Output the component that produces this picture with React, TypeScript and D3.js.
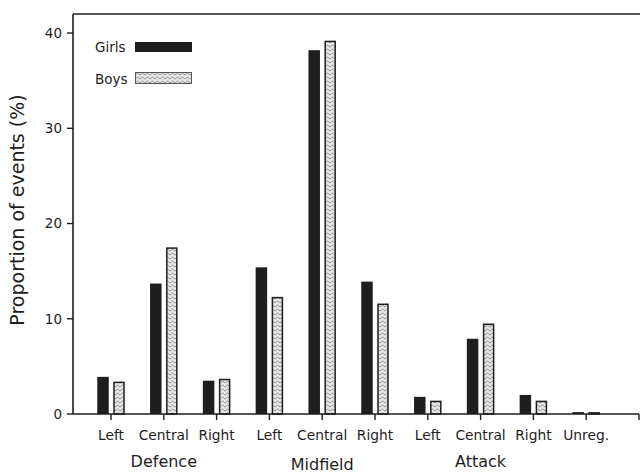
import React from 'react';
import * as d3 from 'd3';

const positions = ['Left', 'Central', 'Right', 'Left', 'Central', 'Right', 'Left', 'Central', 'Right', 'Unreg.'];
const girls = [3.9, 13.7, 3.5, 15.4, 38.2, 13.9, 1.8, 7.9, 2.0, 0.2];
const boys = [3.4, 17.5, 3.7, 12.3, 39.2, 11.6, 1.4, 9.5, 1.4, 0.2];
const zones = [
  { label: 'Defence', at: 1, dy: 0 },
  { label: 'Midfield', at: 4, dy: 3 },
  { label: 'Attack', at: 7, dy: 0 },
];
const yTicks = [0, 10, 20, 30, 40];

const W = 640;
const H = 473;
const font = '"DejaVu Sans", sans-serif';
const ink = '#1e1e1e';

const App = () => {
  const x = d3.scaleLinear().domain([0, 10]).range([111, 639]);
  const y = d3.scaleLinear().domain([0, 42]).range([414, 14]);
  const left = 73;
  const bw = 11.5;
  const off = 8;

  return (
    <svg width={W} height={H} style={{ position: 'absolute', left: 0, top: 0, background: '#fff' }}>
      <defs>
        <pattern id="zig" width="5" height="4" patternUnits="userSpaceOnUse">
          <rect width="5" height="4" fill="#e6e6e6" />
          <polyline points="0,3 2.5,1 5,3" fill="none" stroke="#8a8a8a" strokeWidth="0.9" />
        </pattern>
      </defs>

      {/* bars */}
      {girls.map((v, i) => (
        <rect key={'g' + i} x={x(i) - off - bw / 2} y={y(v)} width={bw} height={y(0) - y(v)} fill={ink} />
      ))}
      {boys.map((v, i) => (
        <rect
          key={'b' + i}
          x={x(i) + off - bw / 2 + 0.75}
          y={y(v) + 0.75}
          width={bw - 1.5}
          height={Math.max(0, y(0) - y(v) - 0.75)}
          fill="url(#zig)"
          stroke={ink}
          strokeWidth={1.5}
        />
      ))}

      {/* frame */}
      <line x1={left} x2={W} y1={y(42)} y2={y(42)} stroke={ink} strokeWidth={1.6} />
      <line x1={left} x2={left} y1={y(42)} y2={y(0)} stroke={ink} strokeWidth={1.6} />
      <line x1={left} x2={x(10)} y1={y(0)} y2={y(0)} stroke={ink} strokeWidth={1.6} />

      {/* y axis */}
      {yTicks.map(t => (
        <g key={t}>
          <line x1={left - 6} x2={left} y1={y(t)} y2={y(t)} stroke={ink} strokeWidth={1.4} />
          <text x={left - 11} y={y(t)} dy="0.36em" textAnchor="end" fontFamily={font} fontSize={13.5} fill={ink}>
            {t}
          </text>
        </g>
      ))}
      <text
        transform={`translate(24,${210}) rotate(-90)`}
        textAnchor="middle"
        fontFamily={font}
        fontSize={19}
        fill={ink}
      >
        Proportion of events (%)
      </text>

      {/* x axis */}
      {d3.range(11).map(i => (
        <line key={i} x1={x(i)} x2={x(i)} y1={y(0)} y2={y(0) + 6} stroke={ink} strokeWidth={1.4} />
      ))}
      {positions.map((p, i) => (
        <text key={i} x={x(i)} y={440} textAnchor="middle" fontFamily={font} fontSize={13.8} fill={ink}>
          {p}
        </text>
      ))}
      {zones.map(z => (
        <text key={z.label} x={x(z.at)} y={467 + z.dy} textAnchor="middle" fontFamily={font} fontSize={16} fill={ink}>
          {z.label}
        </text>
      ))}

      {/* legend */}
      <text x={95} y={52} fontFamily={font} fontSize={13.5} fill={ink}>Girls</text>
      <rect x={135} y={42} width={57} height={10} fill={ink} />
      <text x={95} y={84} fontFamily={font} fontSize={13.5} fill={ink}>Boys</text>
      <rect x={135.5} y={72.5} width={56} height={11} fill="url(#zig)" stroke="#555" strokeWidth={1} />
    </svg>
  );
};

export default App;
